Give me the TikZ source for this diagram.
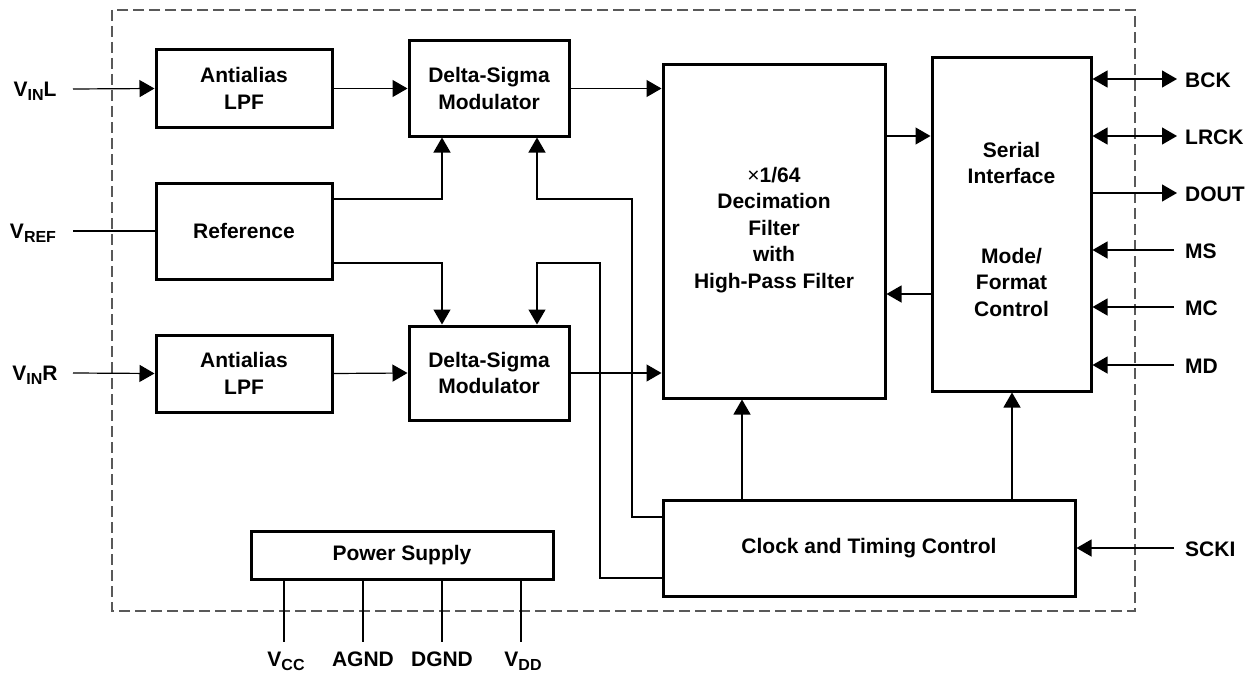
\documentclass[tikz,border=0pt]{standalone}
\usepackage{fontspec}
\setmainfont{Liberation Sans}
\usetikzlibrary{arrows.meta,calc}
\newcommand\pinsub[1]{\raisebox{-0.35ex}{\fontsize{16}{16}\selectfont #1}}
\begin{document}
\begin{tikzpicture}[x=1pt,y=-1pt,
  blk/.style={draw,line width=3pt,rectangle,inner sep=0pt,align=center,
     font=\fontsize{21}{26.5}\selectfont\bfseries},
  lbl/.style={font=\fontsize{21}{26.5}\selectfont\bfseries,inner sep=0pt,align=center},
  wire/.style={line width=1.2pt},
  arr/.style={wire,-{Triangle[length=15pt,width=17pt]}},
  barr/.style={wire,{Triangle[length=15pt,width=17pt]}-{Triangle[length=15pt,width=17pt]}},
  frame/.style={line width=1.3pt,draw=black!65,dash pattern=on 11pt off 5pt}]
\useasboundingbox (0,0) rectangle (1254,677);
\draw[frame] (112,10) rectangle (1135,611);

% blocks
\node[blk,minimum width=176,minimum height=77] (lpf1) at (244,88.5) {Antialias\\LPF};
\node[blk,minimum width=176,minimum height=96] (ref) at (244,231) {Reference};
\node[blk,minimum width=176,minimum height=77] (lpf2) at (244,373.5) {Antialias\\LPF};
\node[blk,minimum width=160,minimum height=95] (ds1) at (489,88.5) {Delta-Sigma\\Modulator};
\node[blk,minimum width=160,minimum height=94] (ds2) at (489,373) {Delta-Sigma\\Modulator};
\node[blk,minimum width=222,minimum height=333] (dec) at (774,231.5) {};
\node[lbl] (dectxt) at (774,230) {{\mdseries\char"00D7}1/64\\Decimation\\Filter\\with\\High-Pass Filter};
\node[blk,minimum width=159,minimum height=333] (ser) at (1011.5,224.5) {};
\node[lbl] (sertxt) at (1011.5,229) {Serial\\Interface\\[53pt]Mode/\\Format\\Control};
\node[blk,minimum width=412,minimum height=96] (clk) at (869,548) {Clock and Timing Control};
\node[blk,minimum width=302,minimum height=48] (ps) at (402,555) {Power Supply};

% left inputs
\coordinate (pinl) at (73,89);
\coordinate (pinref) at (73,231);
\coordinate (pinr) at (73,373);
\node[lbl] (lvinl) at (35,91) {V\pinsub{IN}L};
\node[lbl] (lvref) at (33,233) {V\pinsub{REF}};
\node[lbl] (lvinr) at (35,375) {V\pinsub{IN}R};
\draw[arr] (pinl) -- (lpf1.west);
\draw[wire] (pinref) -- (ref.west);
\draw[arr] (pinr) -- (lpf2.west);

% signal path
\draw[arr] (lpf1.east) -- (ds1.west);
\draw[arr] (lpf2.east) -- (ds2.west);
\draw[arr] (ds1.east) -- (dec.west |- ds1.east);
\draw[arr] (ds2.east) -- (dec.west |- ds2.east);

% reference
\draw[arr] ([yshift=32pt]ref.east) -| ([xshift=-47pt]ds1.south);
\draw[arr] ([yshift=-32pt]ref.east) -| ([xshift=-47pt]ds2.north);

% clocks to modulators
\draw[arr] ([yshift=31pt]clk.west) -| (632,199) -| ([xshift=48pt]ds1.south);
\draw[arr] ([yshift=-30pt]clk.west) -| (600,263) -| ([xshift=48pt]ds2.north);

% decimation <-> serial
\draw[arr] (dec.east |- 0,136) -- (ser.west |- 0,136);
\draw[arr] (ser.west |- 0,294) -- (dec.east |- 0,294);

% clock up
\draw[arr] (clk.north -| 742,0) -- (dec.south -| 742,0);
\draw[arr] (clk.north -| 1012,0) -- (ser.south -| 1012,0);

% right pins
\coordinate (pbck) at (1177,79);
\coordinate (plrck) at (1177,136);
\coordinate (pdout) at (1177,193);
\coordinate (pms) at (1174,250);
\coordinate (pmc) at (1174,307);
\coordinate (pmd) at (1174,365);
\coordinate (pscki) at (1174,548);
\draw[barr] (ser.east |- pbck) -- (pbck);
\draw[barr] (ser.east |- plrck) -- (plrck);
\draw[arr] (ser.east |- pdout) -- (pdout);
\draw[arr] (pms) -- (ser.east |- pms);
\draw[arr] (pmc) -- (ser.east |- pmc);
\draw[arr] (pmd) -- (ser.east |- pmd);
\draw[arr] (pscki) -- (clk.east |- pscki);
\node[lbl,anchor=west] (lbck) at (1185,80) {BCK};
\node[lbl,anchor=west] (llrck) at (1185,137) {LRCK};
\node[lbl,anchor=west] (ldout) at (1185,194) {DOUT};
\node[lbl,anchor=west] (lms) at (1185,251) {MS};
\node[lbl,anchor=west] (lmc) at (1185,308) {MC};
\node[lbl,anchor=west] (lmd) at (1185,366) {MD};
\node[lbl,anchor=west] (lscki) at (1185,549) {SCKI};

% power pins
\coordinate (pvcc) at (284,642);
\coordinate (pagnd) at (363,642);
\coordinate (pdgnd) at (442,642);
\coordinate (pvdd) at (521,642);
\draw[wire] (ps.south -| pvcc) -- (pvcc);
\draw[wire] (ps.south -| pagnd) -- (pagnd);
\draw[wire] (ps.south -| pdgnd) -- (pdgnd);
\draw[wire] (ps.south -| pvdd) -- (pvdd);
\node[lbl,anchor=north] (lvcc) at (286,652) {V\pinsub{CC}};
\node[lbl,anchor=north] (lagnd) at (363,652) {AGND};
\node[lbl,anchor=north] (ldgnd) at (442,652) {DGND};
\node[lbl,anchor=north] (lvdd) at (523,652) {V\pinsub{DD}};
\end{tikzpicture}
\end{document}
